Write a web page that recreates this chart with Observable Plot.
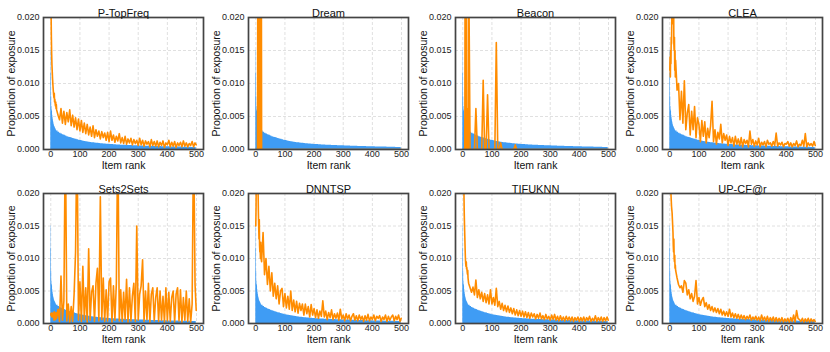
<!DOCTYPE html>
<html><head><meta charset="utf-8">
<script src="https://cdn.jsdelivr.net/npm/d3@7"></script>
<script src="https://cdn.jsdelivr.net/npm/@observablehq/plot@0.6"></script>
<style>
body{margin:0;background:#fff;}
#chart{position:relative;width:830px;height:352px;font-family:"Liberation Sans",Arial,sans-serif;}
#chart svg{position:absolute;overflow:visible;}
</style></head><body><div id="chart"></div>
<script>
// Item ranks
const ranks = [
 0,1,2,3,4,5,6,7,8,9,
 10,11,12,13,14,15,16,17,18,19,
 20,25,30,35,40,45,50,55,60,65,
 70,75,80,85,90,95,100,105,110,115,
 120,125,130,135,140,145,150,155,160,165,
 170,175,180,185,190,195,200,205,210,215,
 220,225,230,235,240,245,250,255,260,265,
 270,275,280,285,290,295,300,305,310,315,
 320,325,330,335,340,345,350,355,360,365,
 370,375,380,385,390,395,400,405,410,415,
 420,425,430,435,440,445,450,455,460,465,
 470,475,480,485,490,495,499];

// All values below are in units of 1e-4 (proportion of exposure)
const popularity = [
 150,115,80,65,60,58,52,48,45,42,
 40,38,36,35,34,33,32,31,30,29,
 28,26,24.5,23.5,22.5,21.5,20.5,19.5,18.7,18,
 17.3,16.6,16,15.4,14.8,14.2,13.6,13.1,12.6,12.2,
 11.8,11.4,11,10.7,10.4,10.1,9.8,9.5,9.3,9,
 8.8,8.6,8.4,8.2,8,7.8,7.7,7.5,7.4,7.2,
 7.1,7,6.8,6.7,6.6,6.5,6.4,6.3,6.2,6.1,
 6,5.9,5.8,5.7,5.6,5.5,5.5,5.4,5.3,5.2,
 5.2,5.1,5,4.9,4.9,4.8,4.7,4.6,4.6,4.5,
 4.4,4.4,4.3,4.2,4.2,4.1,4,4,3.9,3.9,
 3.8,3.8,3.7,3.7,3.6,3.6,3.5,3.5,3.4,3.4,
 3.3,3.3,3.2,3.2,3.1,3.1,3.0];

const pTopFreq = [
 260,210,170,145,128,118,108,100,93,87,
 82,78,85,72,76,70,66,72,62,68,
 60,52,45,62,40,58,38,56,42,60,
 36,52,34,48,30,46,28,44,26,40,
 24,38,22,34,20,36,18,30,20,28,
 16,27,18,25,14,26,12,28,14,22,
 11,20,13,24,10,18,9,20,8,16,
 10,17,7,15,9,14,6,17,7,14,
 5,13,8,12,4,15,6,12,5,13,
 4,11,6,13,3,10,7,14,4,11,
 5,12,3,10,6,11,4,13,5,10,
 4,9,6,12,4,10,7];

const dream = [
 0,0,0,0,0,0,0,300,0,300,
 300,0,300,0,300,300,0,300,0,300,
 0,0,0,0,0,0,0,0,0,0,
 0,0,0,0,0,0,0,0,0,0,
 0,0,0,0,0,0,0,0,0,0,
 0,0,0,0,0,0,0,0,0,0,
 0,0,0,0,0,0,0,0,0,0,
 0,0,0,0,0,0,0,0,0,0,
 0,0,0,0,0,0,0,0,0,0,
 0,0,0,0,0,0,0,0,0,0,
 0,0,0,0,0,0,0,0,0,0,
 0,0,0,0,0,0,0];

const beacon = [
 0,0,0,0,0,0,0,0,300,0,
 300,0,300,35,0,0,0,62,0,0,
 300,0,0,0,0,62,0,0,0,0,
 105,0,0,83,0,0,0,0,0,162,
 0,0,10,0,0,0,0,0,0,0,
 0,0,7,0,0,0,0,0,0,0,
 0,0,0,0,0,0,0,0,0,0,
 0,0,0,0,0,0,0,0,0,0,
 0,0,0,0,0,0,0,0,0,0,
 0,0,0,0,0,0,0,0,0,0,
 0,0,0,0,0,0,0,0,0,0,
 0,0,0,0,0,0,0];

const clea = [
 120,140,110,150,130,170,160,200,220,260,
 280,300,190,240,160,150,170,120,150,110,
 135,90,100,45,88,40,104,30,55,68,
 22,58,30,65,18,48,38,12,44,20,
 42,10,32,18,36,73,12,30,8,26,
 16,38,10,24,14,22,6,20,10,18,
 5,20,8,16,6,18,4,15,9,14,
 4,28,8,15,5,13,7,17,4,11,
 7,12,4,14,8,10,5,12,6,25,
 5,10,7,11,4,9,8,12,5,10,
 4,9,6,13,4,8,6,14,5,24,
 4,10,6,9,5,12,6];

const sets2sets = [
 15,12,16,14,10,15,12,16,10,14,
 12,5,18,9,14,16,6,15,10,17,
 8,22,3,73,5,35,300,4,30,2,
 26,3,45,110,300,5,64,3,88,6,
 55,2,115,5,48,58,3,62,85,4,
 195,6,70,3,52,4,64,70,2,58,
 5,62,300,4,52,3,48,6,68,2,
 55,4,42,62,3,150,5,45,58,98,
 3,50,6,62,2,45,55,4,40,55,
 3,50,5,42,2,55,4,48,3,40,
 50,2,45,55,4,52,2,40,5,50,
 3,38,2,30,300,60,20];

const dnntsp = [
 150,180,250,300,300,280,260,220,200,170,
 150,130,160,120,110,115,100,125,105,98,
 95,140,75,100,60,88,50,78,42,62,
 38,58,30,50,54,26,46,24,42,22,
 50,20,36,18,34,16,31,20,30,13,
 30,15,26,10,29,13,23,9,21,8,
 19,11,35,10,19,6,17,9,21,6,
 15,8,16,5,22,7,13,4,15,7,
 13,4,11,15,5,12,4,13,6,11,
 3,12,5,14,4,10,6,13,4,11,
 8,12,3,10,6,13,3,11,5,10,
 13,4,11,6,13,3,8];

const tifuknn = [
 300,300,280,240,200,170,150,133,115,100,
 92,88,95,84,86,80,76,82,70,66,
 62,55,48,56,44,67,40,52,38,48,
 34,46,32,44,30,52,30,40,28,54,
 26,34,22,31,20,28,18,27,17,24,
 15,23,13,21,12,20,11,19,10,18,
 9,17,8,16,10,15,7,14,8,16,
 7,12,6,14,7,11,5,13,6,14,
 5,11,4,12,5,10,4,11,5,10,
 4,10,3,9,5,10,3,9,4,10,
 3,9,5,11,3,8,4,12,3,9,
 4,10,3,9,4,10,5];

const upcf = [
 300,300,280,230,200,190,180,175,170,160,
 150,140,120,110,130,100,95,105,85,90,
 82,70,60,55,58,48,66,62,44,52,
 38,46,34,42,66,30,40,28,36,40,
 26,32,22,29,20,26,18,24,17,23,
 15,22,13,19,12,18,11,22,10,16,
 9,15,8,14,7,13,7,12,6,11,
 7,13,5,10,6,11,5,10,4,13,
 5,10,4,11,3,9,4,10,3,9,
 3,8,3,9,2,7,3,8,2,9,
 3,13,2,20,8,6,3,8,2,7,
 3,8,2,7,3,6,3];

const models = ["P-TopFreq","Dream","Beacon","CLEA","Sets2Sets","DNNTSP","TIFUKNN","UP-CF@r"];
const exposures = [pTopFreq, dream, beacon, clea, sets2sets, dnntsp, tifuknn, upcf];
const xTicks = [0,100,200,300,400,500];
const yTicks = [0,0.005,0.010,0.015,0.020];
const xLabel = "Item rank";
const yLabel = "Proportion of exposure";

const BLUE = "#3f9cf4", ORANGE = "#ff8c00";
const colLeft = [0,205,412,619];
const rowTop = [0,176];
const rowMargins = [{top:17,bottom:27,xl:19},{top:17,bottom:29,xl:19.5}];
const chart = document.getElementById("chart");

models.forEach((name, i) => {
  const col = i % 4, row = Math.floor(i / 4);
  const vals = exposures[i];
  const data = ranks.map((r, k) => ({rank: r, pop: popularity[k] / 1e4, exp: vals[k] / 1e4}));
  const m = rowMargins[row];
  const svg = Plot.plot({
    width: 205, height: 176,
    marginLeft: 43, marginRight: 2, marginTop: m.top, marginBottom: m.bottom,
    style: {fontFamily: '"Liberation Sans", Arial, sans-serif', fontSize: "9px", color: "#222", background: "transparent", overflow: "visible"},
    x: {domain: [-25, 524], ticks: xTicks, tickSize: 0, tickPadding: 1.5, label: null},
    y: {domain: [0, 0.02], ticks: yTicks, tickSize: 0, tickPadding: 4, tickFormat: d3.format(".3f"), label: null},
    marks: [
      Plot.ruleX(xTicks, {stroke: "#d8d8d8", strokeDasharray: "3,2", strokeWidth: 0.8}),
      Plot.ruleY(yTicks, {stroke: "#d8d8d8", strokeDasharray: "3,2", strokeWidth: 0.8}),
      Plot.areaY(data, {x: "rank", y: "pop", fill: BLUE, curve: "step-after"}),
      Plot.lineY(data, {x: "rank", y: "exp", stroke: ORANGE, strokeWidth: 1.6, clip: true}),
      Plot.frame({stroke: "#444", strokeWidth: 1.7}),
      Plot.text([name], {frameAnchor: "top", dy: -8, fontSize: 11, fill: "#111"}),
      Plot.text([xLabel], {frameAnchor: "bottom", dy: m.xl, fontSize: 10.5, fill: "#111"}),
      Plot.text([yLabel], {frameAnchor: "left", textAnchor: "middle", dx: -32, rotate: -90, fontSize: 10.5, fill: "#111"})
    ]
  });
  svg.style.left = colLeft[col] + "px";
  svg.style.top = rowTop[row] + "px";
  chart.appendChild(svg);
});
</script>
</body></html>
